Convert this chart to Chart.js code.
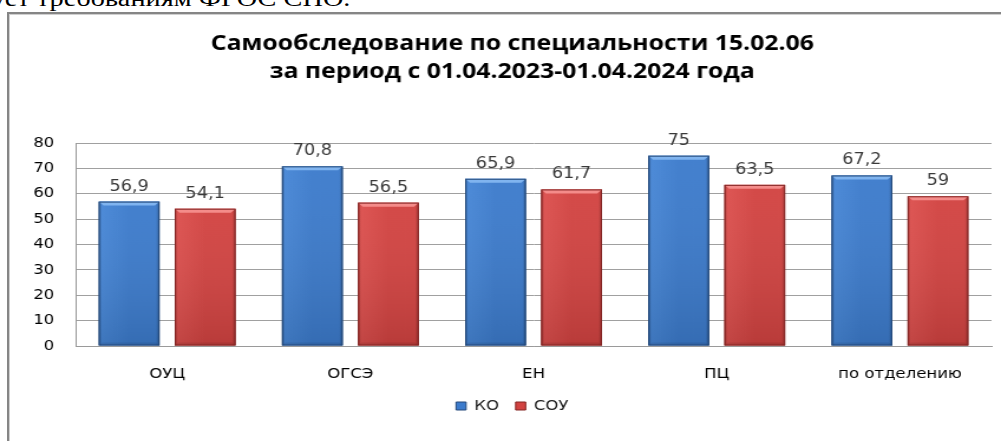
<!DOCTYPE html>
<html>
<head>
<meta charset="utf-8">
<script src="https://cdn.jsdelivr.net/npm/chart.js@4"></script>
<style>
  html, body { margin: 0; padding: 0; background: #fff; overflow: hidden; width: 1001px; height: 441px; position: relative; }
  #topText { position: absolute; left: -9px; top: -14px; font: 24px/24px "Liberation Serif", serif; white-space: nowrap;
             transform: scaleX(1.18); transform-origin: 0 0; color: #000; }
  #frame { position: absolute; left: 7px; top: 12px; width: 1100px; height: 500px;
           border-left: 2px solid #858585; border-top: 2px solid #858585; box-shadow: inset 1px 1px 0 #cfcfcf; }
  #chart { position: absolute; left: 0; top: 0; }
</style>
</head>
<body>
<div id="topText">ует требованиям ФГОС СПО.</div>
<div id="frame"></div>
<canvas id="chart" width="848" height="441" style="width:1001px;height:441px"></canvas>
<script>
/* ============================================================
   ДАННЫЕ
============================================================ */
const categories  = ['ОУЦ', 'ОГСЭ', 'ЕН', 'ПЦ', 'по отделению'];
const seriesNames = ['КО', 'СОУ'];
const koValues    = [56.9, 70.8, 65.9, 75, 67.2];
const souValues   = [54.1, 56.5, 61.7, 63.5, 59];
const titleLines  = ['Самообследование по специальности 15.02.06', 'за период с 01.04.2023-01.04.2024 года'];
const yMin = 0, yMax = 80, yStep = 10;

// цвета: светлая фаска, основной, тёмный край
const PALETTE = [
    { top: '#80b4ef', light: '#4686d6', main: '#3c7bcc', dark: '#2a5894', edge: '#24497a' },
    { top: '#f48c8a', light: '#dc4f4d', main: '#d24341', dark: '#9e302e', edge: '#842625' }
];

/* ============================================================
   ОБЪЁМНЫЕ СТОЛБЦЫ + ПОДПИСИ
============================================================ */
const bevelBars = {
    id: 'bevelBars',
    afterDatasetsDraw(chart) {
        const ctx = chart.ctx;
        ctx.save();
        chart.data.datasets.forEach((ds, di) => {
            const p = PALETTE[di];
            chart.getDatasetMeta(di).data.forEach((bar, i) => {
                const { x, y, base, width } = bar.getProps(['x', 'y', 'base', 'width'], true);
                const l = x - width / 2, r = x + width / 2, t = y, b = base;
                const bv = 4;

                const g = ctx.createLinearGradient(l, 0, r, 0);
                g.addColorStop(0, p.dark);
                g.addColorStop(0.05, p.light);
                g.addColorStop(0.5, p.main);
                g.addColorStop(0.94, p.main);
                g.addColorStop(1, p.dark);
                ctx.fillStyle = g;
                ctx.fillRect(l, t, r - l, b - t);

                const v = ctx.createLinearGradient(0, t, 0, b);
                v.addColorStop(0, 'rgba(255,255,255,0.04)');
                v.addColorStop(1, 'rgba(0,0,0,0.12)');
                ctx.fillStyle = v;
                ctx.fillRect(l, t, r - l, b - t);

                // верхняя фаска
                ctx.fillStyle = p.top;
                ctx.beginPath();
                ctx.moveTo(l, t); ctx.lineTo(r, t); ctx.lineTo(r - bv, t + bv); ctx.lineTo(l + bv, t + bv);
                ctx.closePath(); ctx.fill();
                // нижняя фаска
                ctx.fillStyle = 'rgba(0,0,0,0.08)';
                ctx.beginPath();
                ctx.moveTo(l, b); ctx.lineTo(r, b); ctx.lineTo(r - 3, b - 3); ctx.lineTo(l + 3, b - 3);
                ctx.closePath(); ctx.fill();

                ctx.strokeStyle = p.edge;
                ctx.lineWidth = 1;
                ctx.strokeRect(l + 0.5, t + 0.5, r - l - 1, b - t - 1);

                ctx.fillStyle = '#3a3a3a';
                ctx.font = '15px "DejaVu Sans"';
                ctx.textAlign = 'center';
                ctx.textBaseline = 'alphabetic';
                ctx.fillText(String(ds.data[i]).replace('.', ','), x, t - 11);
            });
        });
        ctx.restore();
    }
};

Chart.defaults.font.family = '"DejaVu Sans", sans-serif';
Chart.defaults.color = '#1a1a1a';

new Chart(document.getElementById('chart'), {
    type: 'bar',
    data: {
        labels: categories,
        datasets: [
            { label: seriesNames[0], data: koValues,  backgroundColor: PALETTE[0].main, borderColor: PALETTE[0].edge, borderWidth: 1 },
            { label: seriesNames[1], data: souValues, backgroundColor: PALETTE[1].main, borderColor: PALETTE[1].edge, borderWidth: 1 }
        ]
    },
    options: {
        responsive: false,
        animation: false,
        devicePixelRatio: 1,
        layout: { padding: { left: 28, right: 8, top: 0, bottom: 18 } },
        datasets: { bar: { categoryPercentage: 0.83, barPercentage: 0.8 } },
        plugins: {
            title: {
                display: true,
                text: titleLines,
                color: '#000',
                font: { family: '"Open Sans", sans-serif', size: 21, weight: 'bold', lineHeight: 28 / 21 },
                padding: { top: 30, bottom: 57 }
            },
            legend: {
                position: 'bottom',
                labels: { boxWidth: 8.5, boxHeight: 8, padding: 14, font: { size: 14 }, color: '#1a1a1a' }
            },
            tooltip: { enabled: false }
        },
        scales: {
            x: {
                grid: { display: false, drawTicks: false },
                border: { display: true, color: '#9a9a9a', width: 1 },
                ticks: { padding: 20, font: { size: 14 }, color: '#000' },
                afterFit: s => { s.height = 39; }
            },
            y: {
                min: yMin, max: yMax,
                grid: { color: '#a0a0a0', lineWidth: 1, drawTicks: false },
                border: { display: true, color: '#9a9a9a', width: 1 },
                ticks: { stepSize: yStep, padding: 18, font: { size: 14 }, color: '#000' },
                afterFit: s => { s.width = 36; }
            }
        }
    },
    plugins: [bevelBars]
});
</script>
</body>
</html>
